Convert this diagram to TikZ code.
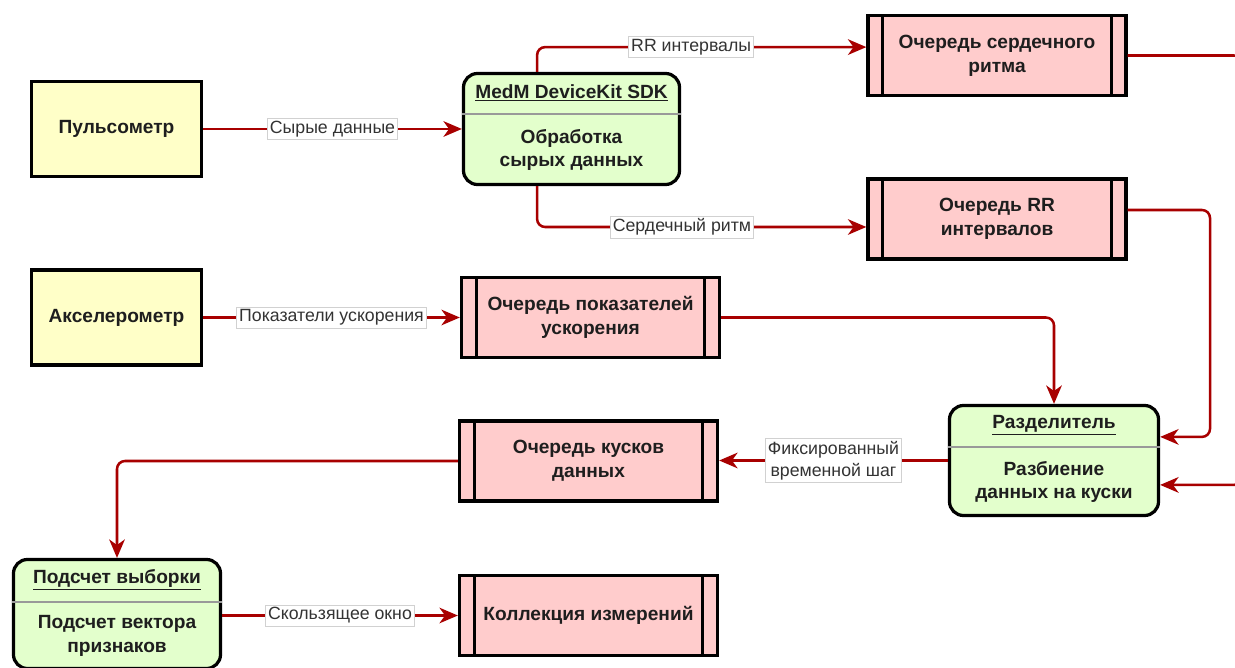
\documentclass[tikz,border=0pt]{standalone}
\usepackage{fontspec}
\setmainfont{Liberation Sans}
\usetikzlibrary{arrows.meta,positioning,calc}
\definecolor{flow}{HTML}{A80000}
\definecolor{sensorfill}{HTML}{FFFFC8}
\definecolor{procfill}{HTML}{E3FFCC}
\definecolor{queuefill}{HTML}{FFCCCC}
\definecolor{ink}{HTML}{1E1E1E}
\tikzset{sensorbox/.style={draw=black,line width=2.3pt,fill=sensorfill,minimum width=4.25cm,minimum height=2.375cm,font=\fontsize{13.6}{17}\selectfont\bfseries,text=ink},procbox/.style={draw=black,line width=2.3pt,fill=procfill,rounded corners=0.35cm},proctext/.style={font=\fontsize{13.6}{17}\selectfont\bfseries,text=ink,align=center,inner sep=0pt},divline/.style={draw=black!40,line width=1pt},queuebox/.style={draw=black,line width=2.3pt,fill=queuefill,minimum width=6.45cm,minimum height=2cm,align=center,font=\fontsize{13.6}{17}\selectfont\bfseries,text=ink,path picture={\draw[line width=2.3pt] ([xshift=0.37cm]path picture bounding box.north west)--([xshift=0.37cm]path picture bounding box.south west) ([xshift=-0.37cm]path picture bounding box.north east)--([xshift=-0.37cm]path picture bounding box.south east);}},flowarr/.style={-{Stealth[length=4.6mm,width=3.9mm,inset=1.4mm]},line width=1.8pt,draw=flow,rounded corners=0.2cm},flowlabel/.style={font=\fontsize{12.6}{15.5}\selectfont,text=black!80,fill=white,draw=black!18,line width=0.4pt,inner sep=1.8pt,align=center,sharp corners}}

\begin{document}
\begin{tikzpicture}[x=0.025cm,y=-0.025cm]
\useasboundingbox (0,0) rectangle (1235,668);
\clip (0,0) rectangle (1235,668);
\node[sensorbox] (pulse) at (116.5,129) {Пульсометр};
\node[sensorbox] (accel) at (116.5,317.5) {Акселерометр};
\node[procbox,minimum width=5.4cm,minimum height=2.775cm] (sdk) at (571.5,129) {};
\draw[divline] ([yshift=-1.05cm]sdk.north west)--([yshift=-1.05cm]sdk.north east);
\node[proctext] (sdktitle) at (571.5,93) {\underline{MedM DeviceKit SDK}};
\node[proctext] (sdkbody) at (571.5,150) {Обработка\\сырых данных};
\node[queuebox] (hr) at (997,55.5) {Очередь сердечного\\ритма};
\node[queuebox] (rr) at (997,219) {Очередь RR\\интервалов};
\node[queuebox] (accq) at (590.5,317.5) {Очередь показателей\\ускорения};
\node[procbox,minimum width=5.225cm,minimum height=2.75cm] (split) at (1054,460.5) {};
\draw[divline] ([yshift=-1.075cm]split.north west)--([yshift=-1.075cm]split.north east);
\node[proctext] (splittitle) at (1054,425) {\underline{Разделитель}};
\node[proctext] (splitbody) at (1054,482) {Разбиение\\данных на куски};
\node[queuebox] (chunks) at (588.5,461) {Очередь кусков\\данных};
\node[procbox,minimum width=5.175cm,minimum height=2.725cm] (calc) at (117,614) {};
\draw[divline] ([yshift=-1.1cm]calc.north west)--([yshift=-1.1cm]calc.north east);
\node[proctext] (calctitle) at (117,580) {\underline{Подсчет выборки}};
\node[proctext] (calcbody) at (117,636) {Подсчет вектора\\признаков};
\node[queuebox] (coll) at (588.5,615.5) {Коллекция измерений};
% connectors
\coordinate (offright) at (1242,300);
\coordinate (rrturn) at (1210,300);
\draw[flowarr] (pulse)--node[flowlabel]{Сырые данные}(sdk);
\draw[flowarr] ([xshift=-0.86cm]sdk.north) |- node[flowlabel,pos=0.734]{RR интервалы} ([yshift=0.21cm]hr.west);
\draw[flowarr] ([xshift=-0.86cm]sdk.south) |- node[flowlabel,pos=0.72]{Сердечный ритм} ([yshift=-0.2cm]rr.west);
\draw[flowarr] (hr.east) -| (offright) |- ([yshift=-0.61cm]split.east);
\draw[flowarr] ([yshift=0.225cm]rr.east) -| (rrturn) |- ([yshift=0.59cm]split.east);
\draw[flowarr] (accel)--node[flowlabel]{Показатели ускорения}(accq);
\draw[flowarr] (accq.east) -| (split.north);
\draw[flowarr] (split.west)--node[flowlabel]{Фиксированный\\временной шаг}(split.west-|chunks.east);
\draw[flowarr] (chunks.west) -| (calc.north);
\draw[flowarr] (calc.east|-coll.west)--node[flowlabel]{Скользящее окно}(coll.west);
\end{tikzpicture}
\end{document}
